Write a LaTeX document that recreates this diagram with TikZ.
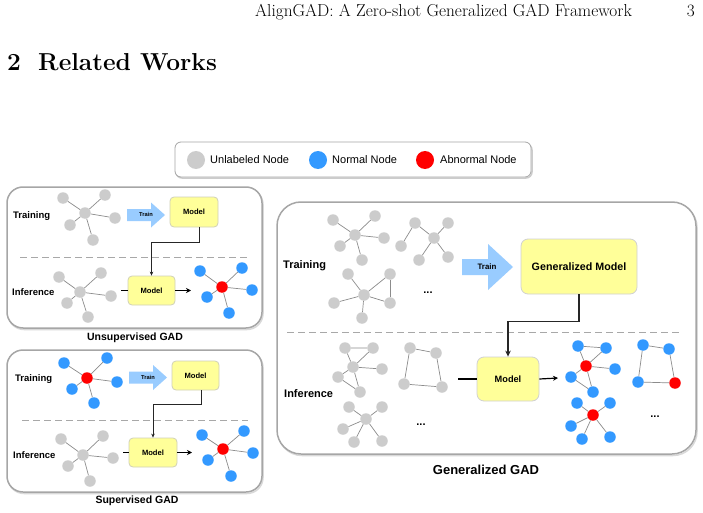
\documentclass[tikz,border=0pt]{standalone}
\usepackage{fontspec}
\newfontfamily\arialfont{Liberation Sans}
\usetikzlibrary{arrows.meta}
\definecolor{nodegray}{HTML}{CCCCCC}
\definecolor{nodeblue}{HTML}{3399FF}
\definecolor{nodered}{HTML}{FF0000}
\definecolor{edgegray}{HTML}{8C8C8C}
\definecolor{panelgray}{HTML}{A6A6A6}
\definecolor{shadowgray}{HTML}{D9D9D9}
\definecolor{modelyellow}{HTML}{FFFF99}
\definecolor{modelborder}{HTML}{D0D0B8}
\definecolor{arrowblue}{HTML}{99CCFF}
\definecolor{dashgray}{HTML}{A8A8A8}
\tikzset{
  gn/.style={circle, fill=nodegray, minimum size=11.5pt, inner sep=0pt},
  bn/.style={circle, fill=nodeblue, minimum size=11.5pt, inner sep=0pt},
  rn/.style={circle, fill=nodered, minimum size=11.5pt, inner sep=0pt},
  lgn/.style={circle, minimum size=18pt, inner sep=0pt},
  ed/.style={draw=edgegray, line width=0.7pt},
  panel/.style={draw=panelgray, line width=1.5pt, rounded corners=16pt},
  panelshadow/.style={draw=shadowgray, line width=1.5pt, rounded corners=16pt},
  modelbox/.style={draw=modelborder, fill=modelyellow, rounded corners=4pt, line width=0.8pt, inner sep=0pt, font=\arialfont\bfseries},
  lbl/.style={font=\arialfont\bfseries, inner sep=0pt},
  sep/.style={draw=dashgray, line width=1pt, dash pattern=on 7pt off 4pt},
  conn/.style={draw=black!85, line width=0.6pt, -{Stealth[length=4pt,width=3.5pt]}},
  outarrow/.style={draw=black, line width=1.2pt, -{Stealth[length=5pt,width=5pt]}},
  stub/.style={draw=black, line width=1.2pt},
  arrowshape/.style={fill=arrowblue, draw=none},
}
\newcommand{\trainarrow}[6]{% x0 x1 xh yc shaft head
  \path[arrowshape] (#1,#4-#5) -- (#3,#4-#5) -- (#3,#4-#6) -- (#2,#4) -- (#3,#4+#6) -- (#3,#4+#5) -- (#1,#4+#5) -- cycle;
}
\begin{document}
\begin{tikzpicture}[x=1pt,y=-1pt]
\useasboundingbox (0,0) rectangle (703,513);
\fill[white] (0,0) rectangle (703,513);
% header
\node[anchor=base west, inner sep=0pt, font=\fontsize{17.3}{20}\selectfont] (hdr) at (255,17) {AlignGAD: A Zero-shot Generalized GAD Framework};
\node[anchor=base east, inner sep=0pt, font=\fontsize{17.3}{20}\selectfont] (pg) at (695,17) {3};
\node[anchor=base west, inner sep=0pt, font=\fontsize{24.5}{29}\selectfont\bfseries] (secnum) at (7,71) {2};
\node[anchor=base west, inner sep=0pt, font=\fontsize{24.5}{29}\selectfont\bfseries] (sec) at (38,71) {Related Works};

% legend
\draw[draw=black!20, line width=1.5pt, rounded corners=6pt] (176,144) rectangle (532,178);
\draw[draw=panelgray, fill=white, line width=0.8pt, rounded corners=6pt] (175,142) rectangle (531,177);
\node[lgn, fill=nodegray] (lg1) at (196,160) {};
\node[lgn, fill=nodeblue] (lg2) at (318,160) {};
\node[lgn, fill=nodered] (lg3) at (425,160) {};
\node[anchor=west, inner sep=0pt, font=\arialfont\fontsize{11}{13}\selectfont] (lt1) at (210,160) {Unlabeled Node};
\node[anchor=west, inner sep=0pt, font=\arialfont\fontsize{11}{13}\selectfont] (lt2) at (332,160) {Normal Node};
\node[anchor=west, inner sep=0pt, font=\arialfont\fontsize{11}{13}\selectfont] (lt3) at (440,160) {Abnormal Node};

% ================= Unsupervised panel
\draw[panelshadow] (8,188.5) rectangle (263,329.5);
\draw[panel, fill=white] (7,187) rectangle (262,328);
\node[lbl, anchor=west, font=\arialfont\bfseries\fontsize{9.5}{11}\selectfont] (utr) at (13,216) {Training};
\node[lbl, anchor=west, font=\arialfont\bfseries\fontsize{9.5}{11}\selectfont] (uin) at (12,292) {Inference};
\draw[sep] (20,257) -- (247,257);
% training graph
\node[gn] (ua0) at (85,213) {};
\node[gn] (ua1) at (63,198) {};
\node[gn] (ua2) at (105,195) {};
\node[gn] (ua3) at (115,218) {};
\node[gn] (ua4) at (70,225) {};
\node[gn] (ua5) at (93,240) {};
\foreach \i in {1,...,5} \draw[ed] (ua0) -- (ua\i);
% inference graph
\node[gn] (ub0) at (80,292) {};
\node[gn] (ub1) at (59,277) {};
\node[gn] (ub2) at (101,273) {};
\node[gn] (ub3) at (111,296) {};
\node[gn] (ub4) at (67,303) {};
\node[gn] (ub5) at (88,317) {};
\foreach \i in {1,...,5} \draw[ed] (ub0) -- (ub\i);
% result graph
\node[rn] (uc0) at (222,287) {};
\node[bn] (uc1) at (200,271) {};
\node[bn] (uc2) at (242,268) {};
\node[bn] (uc3) at (252,290) {};
\node[bn] (uc4) at (207,297) {};
\node[bn] (uc5) at (229,313) {};
\foreach \i in {1,...,5} \draw[ed] (uc0) -- (uc\i);
% train arrow + models
\trainarrow{127}{165}{151}{215}{6}{12.5}
\node[lbl, font=\arialfont\bfseries\fontsize{5.7}{7}\selectfont] (utrain) at (146,214.5) {Train};
\node[modelbox, minimum width=48pt, minimum height=30pt, font=\arialfont\bfseries\fontsize{7.6}{9}\selectfont] (um1) at (194,212) {Model};
\node[modelbox, minimum width=47pt, minimum height=29pt, font=\arialfont\bfseries\fontsize{7.6}{9}\selectfont] (um2) at (151.5,290.5) {Model};
\draw[conn] ([xshift=5pt]um1.south) -- ++(0,15) -| (um2.north);
\coordinate (ust) at (121,290.5);
\coordinate (uout) at (191,290.5);
\draw[stub] (ust) -- (um2.west);
\draw[outarrow] (um2.east) -- (uout);
\node[lbl, font=\arialfont\bfseries\fontsize{10.5}{12}\selectfont] (ucap) at (135,337.5) {Unsupervised GAD};

% ================= Supervised panel
\draw[panelshadow] (8,351.5) rectangle (263,493.5);
\draw[panel, fill=white] (7,350) rectangle (262,492);
\node[lbl, anchor=west, font=\arialfont\bfseries\fontsize{9.5}{11}\selectfont] (str) at (15,379) {Training};
\node[lbl, anchor=west, font=\arialfont\bfseries\fontsize{9.5}{11}\selectfont] (sin) at (13,455) {Inference};
\draw[sep] (22,420) -- (248,420);
\node[rn] (sa0) at (87,378) {};
\node[bn] (sa1) at (64,363) {};
\node[bn] (sa2) at (107,358) {};
\node[bn] (sa3) at (117,382) {};
\node[bn] (sa4) at (72,389) {};
\node[bn] (sa5) at (94,403) {};
\foreach \i in {1,...,5} \draw[ed] (sa0) -- (sa\i);
\node[gn] (sb0) at (83,455) {};
\node[gn] (sb1) at (61,439) {};
\node[gn] (sb2) at (103,436) {};
\node[gn] (sb3) at (113,458) {};
\node[gn] (sb4) at (68,466) {};
\node[gn] (sb5) at (90,481) {};
\foreach \i in {1,...,5} \draw[ed] (sb0) -- (sb\i);
\node[rn] (sc0) at (223,449) {};
\node[bn] (sc1) at (202,435) {};
\node[bn] (sc2) at (244,431) {};
\node[bn] (sc3) at (253,453) {};
\node[bn] (sc4) at (208,460) {};
\node[bn] (sc5) at (231,476) {};
\foreach \i in {1,...,5} \draw[ed] (sc0) -- (sc\i);
\trainarrow{129}{167}{153}{377.5}{6}{12.5}
\node[lbl, font=\arialfont\bfseries\fontsize{5.7}{7}\selectfont] (strain) at (148,377) {Train};
\node[modelbox, minimum width=47pt, minimum height=29pt, font=\arialfont\bfseries\fontsize{7.6}{9}\selectfont] (sm1) at (195.5,375.5) {Model};
\node[modelbox, minimum width=48pt, minimum height=29pt, font=\arialfont\bfseries\fontsize{7.6}{9}\selectfont] (sm2) at (153,452.5) {Model};
\draw[conn] ([xshift=6pt]sm1.south) -- ++(0,14) -| (sm2.north);
\coordinate (sst) at (123,452.5);
\coordinate (sout) at (192,452.5);
\draw[stub] (sst) -- (sm2.west);
\draw[outarrow] (sm2.east) -- (sout);
\node[lbl, font=\arialfont\bfseries\fontsize{10.5}{12}\selectfont] (scap) at (137,501) {Supervised GAD};

% ================= Generalized panel
\draw[panelshadow, rounded corners=24pt] (278,203.5) rectangle (697,455.5);
\draw[panel, fill=white, rounded corners=24pt] (277,202) rectangle (696,454);
\node[lbl, anchor=west, font=\arialfont\bfseries\fontsize{11}{13}\selectfont] (gtr) at (283,266) {Training};
\node[lbl, anchor=west, font=\arialfont\bfseries\fontsize{11}{13}\selectfont] (gin) at (284,394) {Inference};
\draw[sep] (287,332) -- (680,332);
% training graph 1
\node[gn] (t10) at (355,235) {};
\node[gn] (t11) at (333,220) {};
\node[gn] (t12) at (375,216) {};
\node[gn] (t13) at (384,238) {};
\node[gn] (t14) at (340,246) {};
\node[gn] (t15) at (362,260) {};
\foreach \i in {1,...,5} \draw[ed] (t10) -- (t1\i);
% training graph 2
\node[gn] (t20) at (434,238) {};
\node[gn] (t21) at (415,223) {};
\node[gn] (t22) at (448,223) {};
\node[gn] (t23) at (401,246) {};
\node[gn] (t24) at (419,260) {};
\node[gn] (t25) at (448,257) {};
\draw[ed] (t23) -- (t21) -- (t20) -- (t22);
\draw[ed] (t20) -- (t24);
\draw[ed] (t20) -- (t25);
% training graph 3
\node[gn] (t30) at (364,295) {};
\node[gn] (t31) at (348,274) {};
\node[gn] (t32) at (390,274) {};
\node[gn] (t33) at (334,303) {};
\node[gn] (t34) at (390,303) {};
\node[gn] (t35) at (362,318) {};
\foreach \i in {1,...,5} \draw[ed] (t30) -- (t3\i);
\draw[ed] (t32) -- (t34);
\node[lbl, font=\arialfont\bfseries\fontsize{11}{13}\selectfont] (tdots) at (428,293) {...};
% train arrow and generalized model
\trainarrow{462}{513}{488}{267}{8}{23}
\node[lbl, font=\arialfont\bfseries\fontsize{7.9}{9}\selectfont] (gtrain) at (487,267) {Train};
\node[modelbox, draw=black!18, minimum width=116pt, minimum height=55pt, rounded corners=7pt, font=\arialfont\bfseries\fontsize{10.7}{13}\selectfont] (gm) at (579,266.5) {Generalized Model};
% inference graph A
\node[gn] (i10) at (353,367) {};
\node[gn] (i11) at (345,348) {};
\node[gn] (i12) at (373,348) {};
\node[gn] (i13) at (382,369) {};
\node[gn] (i14) at (338,377) {};
\node[gn] (i15) at (360,392) {};
\draw[ed] (i11) -- (i12) -- (i10) -- (i11);
\draw[ed] (i10) -- (i13);
\draw[ed] (i10) -- (i14) -- (i15) -- (i10);
% inference graph B
\node[gn] (i21) at (410,348) {};
\node[gn] (i22) at (436,353) {};
\node[gn] (i23) at (404,384) {};
\node[gn] (i24) at (442,387) {};
\draw[ed] (i21) -- (i22) -- (i24) -- (i23) -- (i21);
% inference graph C
\node[gn] (i30) at (366,419) {};
\node[gn] (i31) at (349,407) {};
\node[gn] (i32) at (382,407) {};
\node[gn] (i33) at (343,429) {};
\node[gn] (i34) at (354,442) {};
\node[gn] (i35) at (382,441) {};
\foreach \i in {1,...,5} \draw[ed] (i30) -- (i3\i);
\node[lbl, font=\arialfont\bfseries\fontsize{11}{13}\selectfont] (idots) at (421,425) {...};
% model
\node[modelbox, draw=black!18, minimum width=62pt, minimum height=44pt, rounded corners=7pt, font=\arialfont\bfseries\fontsize{9.2}{11}\selectfont] (gm2) at (508,379) {Model};
\draw[conn, line width=1.2pt, -{Stealth[length=6pt,width=5.5pt]}] (gm.south) -- ++(0,27) -| (gm2.north);
\coordinate (gst) at (458,379);
\coordinate (gout) at (558,378);
\draw[stub] (gst) -- (gm2.west);
\draw[outarrow] (gm2.east) -- (gout);
% result A
\node[rn] (r10) at (586,366) {};
\node[bn] (r11) at (578,346) {};
\node[bn] (r12) at (606,348) {};
\node[bn] (r13) at (615,369) {};
\node[bn] (r14) at (571,377) {};
\node[bn] (r15) at (593,392) {};
\draw[ed] (r11) -- (r12) -- (r10) -- (r11);
\draw[ed] (r10) -- (r13);
\draw[ed] (r10) -- (r14) -- (r15) -- (r10);
% result B
\node[bn] (r21) at (643,345) {};
\node[bn] (r22) at (669,349) {};
\node[bn] (r23) at (638,382) {};
\node[rn] (r24) at (675,383) {};
\draw[ed] (r21) -- (r22) -- (r24) -- (r23) -- (r21);
% result C
\node[rn] (r30) at (593,415) {};
\node[bn] (r31) at (577,403) {};
\node[bn] (r32) at (610,403) {};
\node[bn] (r33) at (571,426) {};
\node[bn] (r34) at (582,439) {};
\node[bn] (r35) at (610,437) {};
\foreach \i in {1,...,5} \draw[ed] (r30) -- (r3\i);
\node[lbl, font=\arialfont\bfseries\fontsize{11}{13}\selectfont] (rdots) at (655,417) {...};
\node[lbl, font=\arialfont\bfseries\fontsize{13}{15}\selectfont] (gcap) at (486,470) {Generalized GAD};
\end{tikzpicture}
\end{document}
